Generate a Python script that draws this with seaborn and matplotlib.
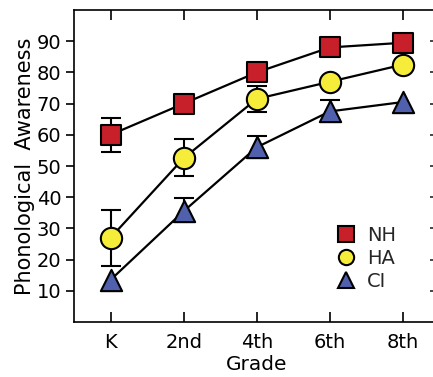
import matplotlib
matplotlib.use("Agg")
import matplotlib.pyplot as plt
import numpy as np
import pandas as pd
import seaborn as sns
from matplotlib.lines import Line2D

# values
grades = ["K", "2nd", "4th", "6th", "8th"]
nh = [60, 70, 80, 88, 89.5]
ha = [27, 52.5, 71.5, 77, 82.5]
ci = [13.5, 35.5, 56, 67.5, 70.5]
# error bars (lower, upper); 0 = not shown
nh_lo = [5.5, 0, 0, 0, 0]
nh_hi = [5.3, 0, 0, 0, 0]
ha_lo = [9.2, 5.8, 4.2, 0, 0]
ha_hi = [9.0, 6.0, 4.2, 0, 0]
ci_lo = [0, 0, 0, 0, 0]
ci_hi = [0, 4.4, 3.6, 3.6, 0]

groups = ["NH", "HA", "CI"]
colors = {"NH": "#C8202A", "HA": "#F6EC3A", "CI": "#5060AC"}
markers = {"NH": "s", "HA": "o", "CI": "^"}
msize = {"NH": 210, "HA": 235, "CI": 235}

rows = []
for g, vals, lo, hi in [("NH", nh, nh_lo, nh_hi), ("HA", ha, ha_lo, ha_hi), ("CI", ci, ci_lo, ci_hi)]:
    for i, gr in enumerate(grades):
        rows.append({"group": g, "grade": gr, "x": i, "score": vals[i], "lo": lo[i], "hi": hi[i]})
df = pd.DataFrame(rows)

sns.set_theme(style="ticks")
plt.rcParams['font.family'] = ['DejaVu Sans']

fig = plt.figure(figsize=(4.33, 3.77), dpi=100)
ax = fig.add_axes([74 / 433, 1 - 322 / 377, 365.5 / 433, 312 / 377])

sns.lineplot(data=df, x="x", y="score", units="group", estimator=None,
             color="black", linewidth=1.6, ax=ax, legend=False, zorder=2)

for g in groups:
    sub = df[df.group == g]
    has = sub[(sub.lo > 0) | (sub.hi > 0)]
    ax.vlines(has.x, has.score - has.lo, has.score + has.hi, color="black", lw=1.5, zorder=2)
    low = sub[sub.lo > 0]
    up = sub[sub.hi > 0]
    ax.plot(low.x, low.score - low.lo, ls="none", marker="_", ms=15, mew=1.5, color="black", zorder=2)
    ax.plot(up.x, up.score + up.hi, ls="none", marker="_", ms=15, mew=1.5, color="black", zorder=2)
    sns.scatterplot(data=sub, x="x", y="score", marker=markers[g], s=msize[g],
                    color=colors[g], edgecolor="black", linewidth=1.5, ax=ax,
                    legend=False, zorder=3)

ax.set_xlim(-0.5, 4.5)
ax.set_ylim(0, 100)
ax.set_xticks(range(len(grades)))
ax.set_xticklabels(grades)
ax.set_yticks(range(10, 100, 10))
ax.set_xlabel("Grade", fontsize=14.5, labelpad=2, color="black")
ax.set_ylabel("Phonological  Awareness", fontsize=15, labelpad=1, color="black")

for s in ax.spines.values():
    s.set_linewidth(1.2)
    s.set_color("black")
ax.tick_params(axis="x", direction="in", top=True, bottom=True, length=7, width=1.2,
               labelsize=14, pad=8, colors="black")
ax.tick_params(axis="y", direction="out", left=True, right=False, length=6, width=1.2,
               labelsize=14, pad=3, colors="black")
sec = ax.secondary_yaxis("right")
sec.set_yticks(range(10, 100, 10))
sec.tick_params(direction="in", length=7, width=1.2, labelright=False)
sec.spines["right"].set_linewidth(1.2)

handles = [Line2D([], [], ls="none", marker=markers[g], markersize=11,
                  markerfacecolor=colors[g], markeredgecolor="black", mew=1.5, label=g)
           for g in groups]
ax.legend(handles=handles, loc="upper left", bbox_to_anchor=(336 / 433, 1 - 226 / 377),
          bbox_transform=fig.transFigure, frameon=False, fontsize=14, borderpad=0,
          borderaxespad=0, handlelength=1.0, handletextpad=0.6, labelspacing=0.2)

fig.savefig("out.png", dpi=100)
